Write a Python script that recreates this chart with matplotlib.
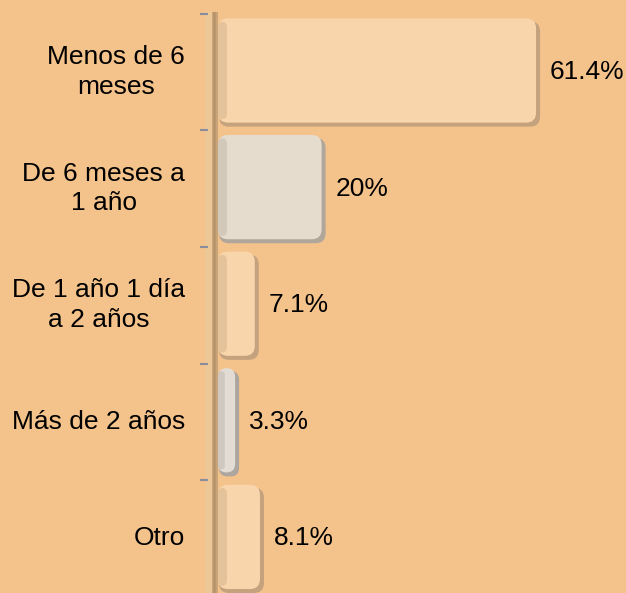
import matplotlib
matplotlib.use("Agg")
import matplotlib.pyplot as plt
from matplotlib.patches import FancyBboxPatch, Rectangle

categories = ["Menos de 6\nmeses", "De 6 meses a\n1 año", "De 1 año 1 día\na 2 años",
              "Más de 2 años", "Otro"]
values = [61.4, 20, 7.1, 3.3, 8.1]
value_labels = ["61.4%", "20%", "7.1%", "3.3%", "8.1%"]

bg = "#F4C28B"
bar_colors = ["#F8D5AA", "#E6DCCE", "#F8D5AA", "#E2DCD4", "#F8D5AA"]
shadow_colors = ["#C4A27E", "#B0A79A", "#C4A27E", "#ACA69E", "#C4A27E"]

W, H = 626, 593
fig = plt.figure(figsize=(W / 100, H / 100), dpi=100)
fig.patch.set_facecolor(bg)
ax = fig.add_axes([0, 0, 1, 1])
ax.set_facecolor(bg)
ax.axis("off")

x0, sx = 218, 5.18     # pixel of value 0, pixels per unit
y0, sy = 72, 116.6     # pixel of first category, pixels per category
ax.set_xlim(-x0 / sx, (W - x0) / sx)
ax.set_ylim((H - y0) / sy, -y0 / sy)

def dx(p):
    return p / sx

def dy(p):
    return p / sy

aspect = sx / sy

# axis strip
top = dy(12 - y0)
ax.add_patch(Rectangle((dx(-13), top), dx(8), dy(H), facecolor="#EEC797",
                       edgecolor="none", zorder=1))
ax.add_patch(Rectangle((dx(-6), top), dx(6), dy(H), facecolor="#C9A478",
                       edgecolor="none", zorder=1))
ax.add_patch(Rectangle((dx(-5), top), dx(2.5), dy(H), facecolor="#B9956B",
                       edgecolor="none", zorder=1))
# tick marks at category boundaries
for b in [i - 0.5 for i in range(len(categories) + 1)]:
    ax.plot([dx(200 - x0), dx(208 - x0)], [b, b], color="#8A8E9C", lw=1.5, zorder=2,
            solid_capstyle="butt")

bars = ax.barh(range(len(values)), values, height=0.92, color="none", zorder=0)
for i, rect in enumerate(bars):
    x, y = rect.get_x(), rect.get_y()
    w, h = rect.get_width(), rect.get_height()
    r = min(dx(10), w / 2)
    shadow = FancyBboxPatch((x + dx(1), y + dy(3)), w + dx(3), h - dy(2),
                            boxstyle=f"round,pad=0,rounding_size={r}",
                            mutation_aspect=aspect, facecolor=shadow_colors[i],
                            edgecolor="none", zorder=3)
    ax.add_patch(shadow)
    main = FancyBboxPatch((x, y), w, h - dy(3),
                          boxstyle=f"round,pad=0,rounding_size={r}",
                          mutation_aspect=aspect, facecolor=bar_colors[i],
                          edgecolor="none", zorder=4)
    ax.add_patch(main)
    edge = FancyBboxPatch((x, y + dy(3)), min(dx(9), w * 0.4), h - dy(9),
                          boxstyle=f"round,pad=0,rounding_size={min(dx(6), w / 5)}",
                          mutation_aspect=aspect, facecolor=shadow_colors[i], alpha=0.35,
                          edgecolor="none", zorder=5)
    ax.add_patch(edge)
    ax.text(w + dx(14), i, value_labels[i], ha="left", va="center",
            fontsize=19, family="Liberation Sans", color="black", zorder=6)

for i, c in enumerate(categories):
    ax.text(dx(185 - x0), i, c, ha="right", va="center", multialignment="center",
            fontsize=19, family="Liberation Sans", color="black", linespacing=1.3,
            zorder=6)

fig.savefig("out.png", dpi=100, facecolor=bg)
